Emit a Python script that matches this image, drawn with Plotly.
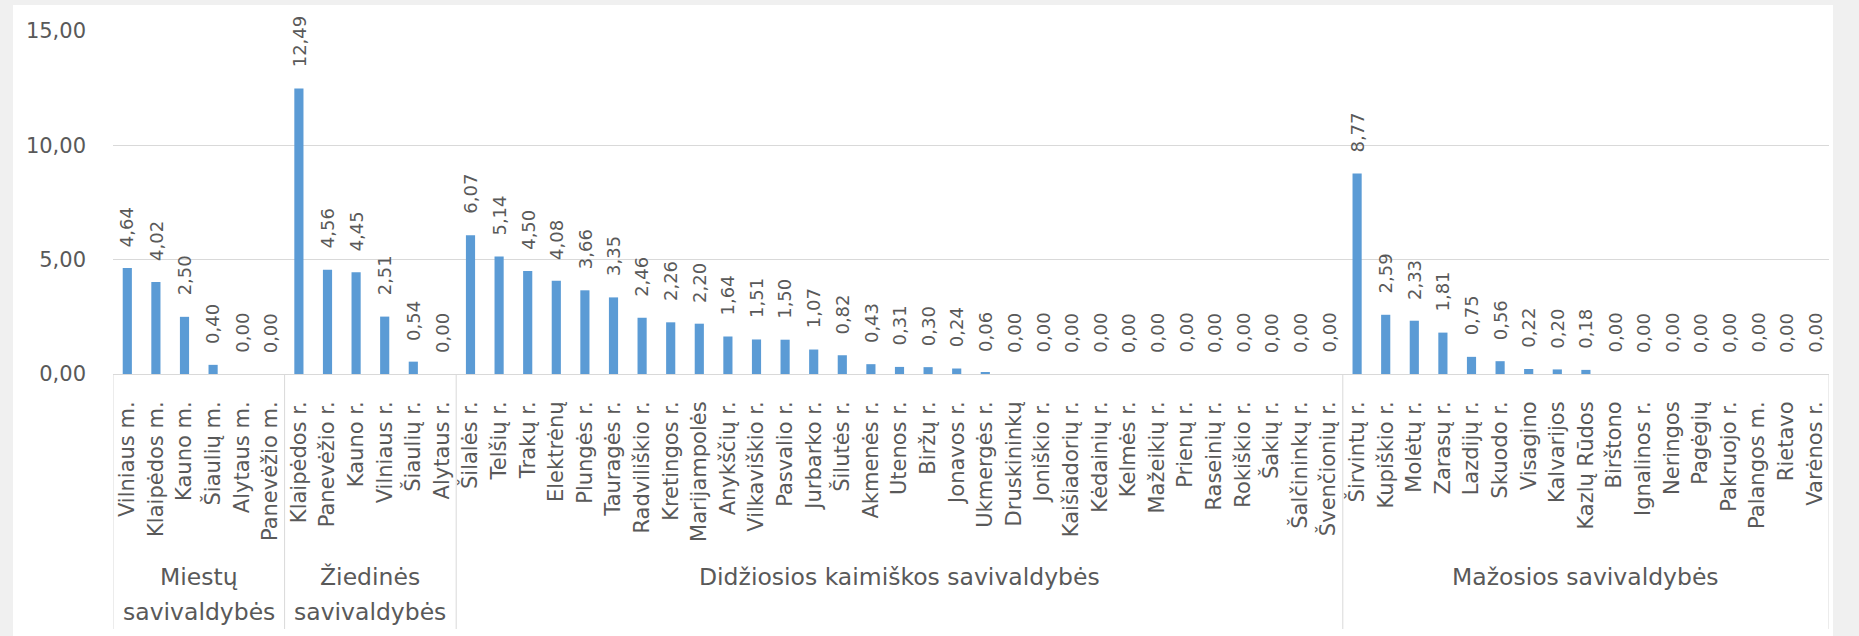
import plotly.graph_objects as go

# ---- data ----
groups = [
    "Miestų\nsavivaldybės",
    "Žiedinės\nsavivaldybės",
    "Didžiosios kaimiškos savivaldybės",
    "Mažosios savivaldybės",
]

names_miestu = ["Vilniaus m.", "Klaipėdos m.", "Kauno m.", "Šiaulių m.", "Alytaus m.", "Panevėžio m."]
values_miestu = [4.64, 4.02, 2.50, 0.40, 0.00, 0.00]

names_ziedines = ["Klaipėdos r.", "Panevėžio r.", "Kauno r.", "Vilniaus r.", "Šiaulių r.", "Alytaus r."]
values_ziedines = [12.49, 4.56, 4.45, 2.51, 0.54, 0.00]

names_didziosios = [
    "Šilalės r.", "Telšių r.", "Trakų r.", "Elektrėnų", "Plungės r.", "Tauragės r.",
    "Radviliškio r.", "Kretingos r.", "Marijampolės", "Anykščių r.", "Vilkaviškio r.",
    "Pasvalio r.", "Jurbarko r.", "Šilutės r.", "Akmenės r.", "Utenos r.", "Biržų r.",
    "Jonavos r.", "Ukmergės r.", "Druskininkų", "Joniškio r.", "Kaišiadorių r.",
    "Kėdainių r.", "Kelmės r.", "Mažeikių r.", "Prienų r.", "Raseinių r.", "Rokiškio r.",
    "Šakių r.", "Šalčininkų r.", "Švenčionių r.",
]
values_didziosios = [
    6.07, 5.14, 4.50, 4.08, 3.66, 3.35, 2.46, 2.26, 2.20, 1.64, 1.51, 1.50, 1.07,
    0.82, 0.43, 0.31, 0.30, 0.24, 0.06, 0.00, 0.00, 0.00, 0.00, 0.00, 0.00, 0.00,
    0.00, 0.00, 0.00, 0.00, 0.00,
]

names_mazosios = [
    "Širvintų r.", "Kupiškio r.", "Molėtų r.", "Zarasų r.", "Lazdijų r.", "Skuodo r.",
    "Visagino", "Kalvarijos", "Kazlų Rūdos", "Birštono", "Ignalinos r.", "Neringos",
    "Pagėgių", "Pakruojo r.", "Palangos m.", "Rietavo", "Varėnos r.",
]
values_mazosios = [8.77, 2.59, 2.33, 1.81, 0.75, 0.56, 0.22, 0.20, 0.18,
                   0.00, 0.00, 0.00, 0.00, 0.00, 0.00, 0.00, 0.00]

y_ticks = [0, 5, 10, 15]

# ---- build ----
group_names = [names_miestu, names_ziedines, names_didziosios, names_mazosios]
group_values = [values_miestu, values_ziedines, values_didziosios, values_mazosios]

names = [n for g in group_names for n in g]
values = [v for g in group_values for v in g]

BAR = "#5B9BD5"
TXT = "#595959"
GRID = "#D9D9D9"
FONT = "DejaVu Sans"

W, H = 1859, 636
L, R, T, B = 113, 30, 31, 262
plot_w = W - L - R
plot_h = H - T - B

def py(pix):
    """pixel row -> paper y"""
    return (H - B - pix) / plot_h

def px(pix):
    return (pix - L) / plot_w

fig = go.Figure()
fig.add_trace(go.Bar(x=names, y=values, marker=dict(color=BAR, line=dict(width=0)),
                     hoverinfo="x+y"))

annotations = []
for n, v in zip(names, values):
    annotations.append(dict(
        x=n, y=v, xref="x", yref="y", text=f"{v:.2f}".replace(".", ","),
        textangle=-90, showarrow=False, yanchor="bottom", xanchor="center",
        yshift=19, font=dict(family=FONT, size=18, color=TXT),
    ))

shapes = []
# white chart area over grey frame
shapes.append(dict(type="rect", xref="paper", yref="paper",
                   x0=px(13), x1=px(1833), y0=py(640), y1=py(5),
                   fillcolor="white", line=dict(width=0), layer="below"))

start = 0
bounds = [-0.5]
for gi, g in enumerate(group_names):
    end = start + len(g)
    bounds.append(end - 0.5)
    center = (start + end - 1) / 2
    lines = groups[gi].split("\n")
    ys = [577] if len(lines) == 1 else [577, 612]
    for line, yy in zip(lines, ys):
        annotations.append(dict(
            x=center, y=py(yy), xref="x", yref="paper", text=line, showarrow=False,
            xanchor="center", yanchor="middle",
            font=dict(family=FONT, size=23.5, color=TXT),
        ))
    start = end

for b in bounds:
    shapes.append(dict(type="line", xref="x", yref="paper", x0=b, x1=b,
                       y0=0, y1=py(629), line=dict(color=GRID, width=1)))

fig.update_layout(
    width=W, height=H, autosize=False,
    margin=dict(l=L, r=R, t=T, b=B, pad=0),
    paper_bgcolor="#F0F0F0", plot_bgcolor="white",
    separators=", ",
    bargap=0.68, showlegend=False,
    font=dict(family=FONT, color=TXT),
    annotations=annotations, shapes=shapes,
    xaxis=dict(type="category", tickangle=-90, showgrid=False, ticks="",
               showline=True, linecolor=GRID, linewidth=1,
               tickfont=dict(family=FONT, size=21, color=TXT),
               ticklabelstandoff=18, range=[-0.5, len(names) - 0.5]),
    yaxis=dict(range=[0, 15], tickvals=y_ticks, tickformat=".2f",
               showgrid=True, gridcolor=GRID, gridwidth=1, zeroline=False,
               showline=False, ticks="", ticklabelstandoff=26,
               tickfont=dict(family=FONT, size=21, color=TXT)),
)

fig.write_html(
    "out.html",
    config={"displayModeBar": False},
    post_script="document.body.style.margin='0';document.body.style.overflow='hidden';"
                "document.body.style.background='#F0F0F0';",
)
